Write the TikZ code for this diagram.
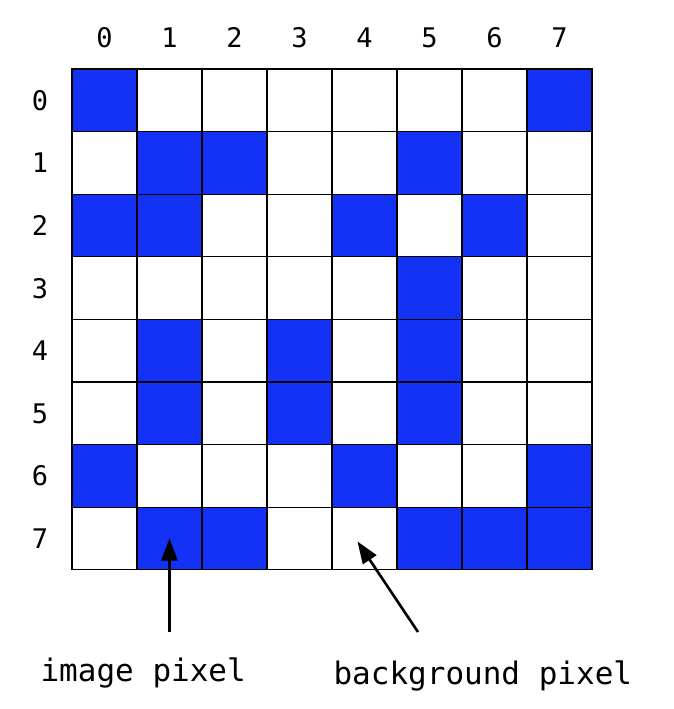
\documentclass[tikz,border=0pt]{standalone}
\usepackage{fontspec}
\newfontfamily\monofont{DejaVu Sans Mono}
\usetikzlibrary{arrows.meta}
\definecolor{pixblue}{RGB}{20,50,245}

\begin{document}
\begin{tikzpicture}[x=1pt,y=-1pt,
  cell/.style={draw=black,line width=1.2pt,minimum width=65pt,minimum height=62.6pt,inner sep=0pt,outer sep=0pt},
  on/.style={cell,fill=pixblue},
  idx/.style={font=\monofont\fontsize{27}{30}\selectfont,text height=20pt,text depth=0pt,inner sep=0pt},
  lbl/.style={font=\monofont\fontsize{31}{34}\selectfont},
  ptr/.style={line width=2.6pt,-{Triangle[length=22pt,width=16pt]}}]
  \useasboundingbox (0,0) rectangle (673,709);
  % grid of pixels
  \foreach \r in {0,...,7}
    \foreach \c in {0,...,7}
      \node[cell] (c\r\c) at ({104.5+65*\c},{100.3+62.6*\r}) {};
  \foreach \r/\cols in {0/{0,7},1/{1,2,5},2/{0,1,4,6},3/{5},4/{1,3,5},5/{1,3,5},6/{0,4,7},7/{1,2,5,6,7}}
    \foreach \c in \cols
      \node[on] at (c\r\c) {};
  % indices
  \foreach \c in {0,...,7}
    \node[idx] (col\c) at ({104.5+65*\c},38) {\c};
  \foreach \r in {0,...,7}
    \node[idx] (row\r) at (40,{100.3+62.6*\r}) {\r};
  % labels
  \node[lbl,anchor=west] (imgpix) at (37,673) {image pixel};
  \node[lbl,anchor=west] (bgpix) at (330,676) {background pixel};
  \coordinate (imgtail) at (169.5,632);
  \coordinate (bgtail) at (418,632);
  \draw[ptr] (imgtail) -- (c71.center);
  \draw[ptr] (bgtail) -- ([shift={(-7,3)}]c74.center);
\end{tikzpicture}
\end{document}
